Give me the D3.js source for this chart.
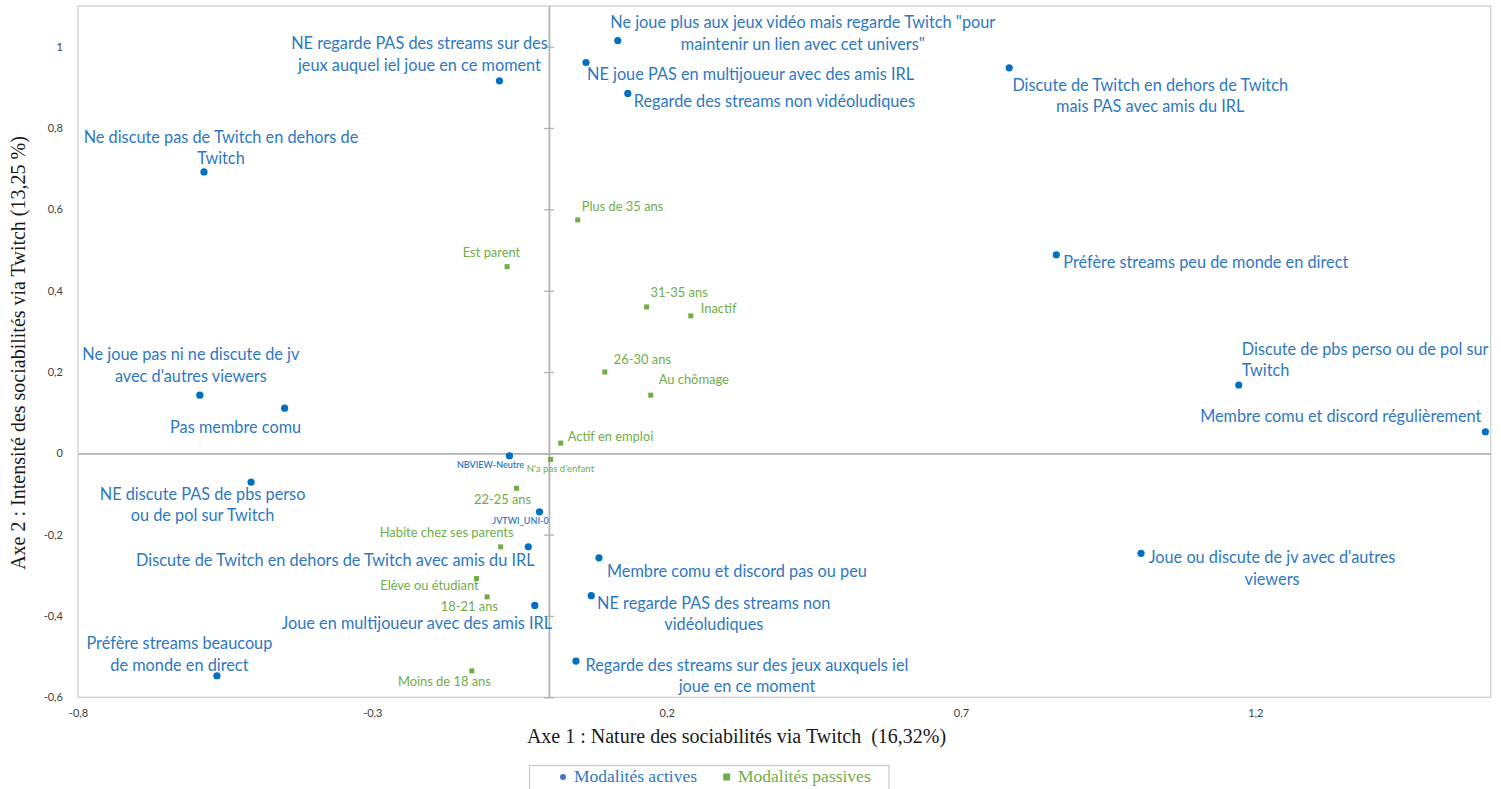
<!DOCTYPE html>
<html><head><meta charset="utf-8">
<script src="https://cdn.jsdelivr.net/npm/d3@7"></script>
<style>body{margin:0;background:#fff;} svg{display:block;} text{white-space:pre;}</style>
</head><body><svg id="c" width="1501" height="789"></svg>
<script>
// ---------- DATA ----------
const activeLabels = [
  "Ne joue plus aux jeux vidéo mais regarde Twitch \"pour\nmaintenir un lien avec cet univers\"",
  "NE regarde PAS des streams sur des\njeux auquel iel joue en ce moment",
  "NE joue PAS en multijoueur avec des amis IRL",
  "Regarde des streams non vidéoludiques",
  "Discute de Twitch en dehors de Twitch\nmais PAS avec amis du IRL",
  "Ne discute pas de Twitch en dehors de\nTwitch",
  "Préfère streams peu de monde en direct",
  "Discute de pbs perso ou de pol sur\nTwitch",
  "Membre comu et discord régulièrement",
  "Ne joue pas ni ne discute de jv\navec d'autres viewers",
  "Pas membre comu",
  "NBVIEW-Neutre",
  "NE discute PAS de pbs perso\nou de pol sur Twitch",
  "JVTWI_UNI-0",
  "Discute de Twitch en dehors de Twitch avec amis du IRL",
  "Membre comu et discord pas ou peu",
  "NE regarde PAS des streams non\nvidéoludiques",
  "Joue en multijoueur avec des amis IRL",
  "Regarde des streams sur des jeux auxquels iel\njoue en ce moment",
  "Préfère streams beaucoup\nde monde en direct",
  "Joue ou discute de jv avec d'autres\nviewers"
];
const activeX = [0.117, -0.084, 0.063, 0.134, 0.782, -0.586, 0.862, 1.172, 1.591, -0.593, -0.449, -0.067, -0.506, -0.016, -0.035, 0.085, 0.072, -0.024, 0.046, -0.564, 1.006];
const activeY = [1.015, 0.916, 0.961, 0.885, 0.948, 0.692, 0.488, 0.168, 0.053, 0.143, 0.111, -0.006, -0.071, -0.144, -0.230, -0.257, -0.350, -0.374, -0.511, -0.547, -0.246];

const passiveLabels = [
  "Plus de 35 ans", "Est parent", "31-35 ans", "Inactif", "26-30 ans", "Au chômage",
  "Actif en emploi", "N'a pas d'enfant", "22-25 ans", "Habite chez ses parents",
  "Elève ou étudiant", "18-21 ans", "Moins de 18 ans"
];
const passiveX = [0.049, -0.071, 0.166, 0.241, 0.095, 0.173, 0.020, 0.003, -0.055, -0.082, -0.123, -0.105, -0.131];
const passiveY = [0.574, 0.459, 0.360, 0.338, 0.200, 0.143, 0.025, -0.015, -0.086, -0.230, -0.308, -0.353, -0.535];

const xTicks = [-0.8, -0.3, 0.2, 0.7, 1.2];
const yTicks = [-0.6, -0.4, -0.2, 0, 0.2, 0.4, 0.6, 0.8, 1];
const xTitle = "Axe 1 : Nature des sociabilités via Twitch  (16,32%)";
const yTitle = "Axe 2 : Intensité des sociabilités via Twitch (13,25 %)";
const legendLabels = ["Modalités actives", "Modalités passives"];

// ---------- LAYOUT (label placement relative to point: anchor, dx, dy, size class) ----------
const activeLabelPos = [
  ["middle", 185, -12.4, "L"], ["middle", -80, -31.7, "L"], ["start", 1, 17.7, "L"],
  ["start", 6, 13.7, "L"], ["middle", 141, 23, "L"], ["middle", 17, -29, "L"],
  ["start", 7, 13.3, "L"], ["start", 3, -30, "L"], ["end", -4, -10, "L"],
  ["middle", -9, -35, "L"], ["middle", -49, 24.4, "L"], ["middle", -19, 12, "S"],
  ["middle", -48.5, 17.7, "L"], ["middle", -19, 12.3, "S"], ["middle", -193, 18.7, "L"],
  ["start", 8, 19.6, "L"], ["middle", 122.5, 13.3, "L"], ["middle", -118, 24, "L"],
  ["middle", 171, 9.4, "L"], ["middle", -37.5, -26.7, "L"], ["middle", 131, 10, "L"]
];
const passiveLabelPos = [
  ["start", 4, -9, "M"], ["middle", -15.6, -10, "M"], ["start", 4, -10, "M"],
  ["start", 10, -2.5, "M"], ["start", 9, -8, "M"], ["start", 8, -11, "M"],
  ["start", 7, -2.6, "M"], ["start", -24, 12.4, "T"], ["middle", -14, 15.7, "M"],
  ["middle", -54, -9.7, "M"], ["middle", -47, 11.3, "M"], ["middle", -17.7, 14, "M"],
  ["middle", -27.4, 15, "M"]
];

const plot = {left: 78, right: 1490.7, top: 6, bottom: 697.3};
const BLUE_PT = "#0070C0", BLUE_TX = "#2E78C2", GREEN = "#70AD47";
const sansFont = "Lato, 'Open Sans', sans-serif";
const serifFont = "'Liberation Serif', 'DejaVu Serif', serif";
const sizes = {L: 16.3, M: 12.9, S: 9, T: 9.6};
const weights = {L: 400, M: 400, S: 600, T: 400};
const lineH = {L: 21.5, M: 14, S: 11, T: 11};

const svg = d3.select("#c");
const x = d3.scaleLinear().domain([-0.8, 1.6]).range([plot.left, plot.right]);
const y = d3.scaleLinear().domain([-0.6, 1.1]).range([plot.bottom, plot.top]);
const fmt = d => String(d).replace(".", ",");

// plot border
svg.append("rect")
  .attr("x", plot.left).attr("y", plot.top)
  .attr("width", plot.right - plot.left).attr("height", plot.bottom - plot.top)
  .attr("fill", "none").attr("stroke", "#cfcfcf").attr("stroke-width", 1.3);

// horizontal axis line through 0
const gx0 = svg.append("g").attr("transform", `translate(0,${y(0)})`)
  .call(d3.axisBottom(x).tickValues([]).tickSizeOuter(0));
gx0.select(".domain").attr("stroke", "#b3b3b3").attr("stroke-width", 1.8);

// vertical axis line through 0 with crossing ticks
const gy0 = svg.append("g").attr("transform", `translate(${x(0)},0)`)
  .call(d3.axisLeft(y).tickValues(yTicks).tickSize(5).tickSizeOuter(0).tickFormat(""));
gy0.select(".domain").attr("stroke", "#b3b3b3").attr("stroke-width", 1.8);
gy0.selectAll(".tick line").attr("x1", 5).attr("stroke", "#b3b3b3").attr("stroke-width", 1.3);

// tick labels
const gyl = svg.append("g").attr("transform", `translate(${plot.left},0)`)
  .call(d3.axisLeft(y).tickValues(yTicks).tickSize(0).tickPadding(15).tickFormat(fmt));
gyl.select(".domain").remove();
gyl.selectAll("text").attr("font-family", sansFont).attr("font-size", 11).attr("fill", "#404040");

const gxl = svg.append("g").attr("transform", `translate(0,${plot.bottom})`)
  .call(d3.axisBottom(x).tickValues(xTicks).tickSize(0).tickPadding(12).tickFormat(fmt));
gxl.select(".domain").remove();
gxl.selectAll("text").attr("font-family", sansFont).attr("font-size", 11).attr("fill", "#404040");

// axis titles
svg.append("text").attr("x", 736.5).attr("y", 742.5).attr("text-anchor", "middle")
  .attr("font-family", serifFont).attr("font-size", 20).attr("fill", "#1a1a1a").text(xTitle);
svg.append("text").attr("transform", `translate(25,353) rotate(-90)`)
  .attr("text-anchor", "middle").attr("font-family", serifFont).attr("font-size", 20)
  .attr("fill", "#1a1a1a").text(yTitle);

// data
const active = activeLabels.map((l, i) => ({label: l, x: activeX[i], y: activeY[i], pos: activeLabelPos[i]}));
const passive = passiveLabels.map((l, i) => ({label: l, x: passiveX[i], y: passiveY[i], pos: passiveLabelPos[i]}));

function drawLabels(data, color) {
  const t = svg.append("g").selectAll("text").data(data).join("text")
    .attr("text-anchor", d => d.pos[0])
    .attr("font-family", sansFont)
    .attr("font-size", d => sizes[d.pos[3]])
    .attr("font-weight", d => weights[d.pos[3]])
    .attr("fill", color);
  t.each(function(d) {
    const lines = d.label.split("\n");
    const px = x(d.x) + d.pos[1], py = y(d.y) + d.pos[2];
    d3.select(this).selectAll("tspan").data(lines).join("tspan")
      .attr("x", px).attr("y", (l, j) => py + j * lineH[d.pos[3]]).text(l => l);
  });
}
drawLabels(passive, GREEN);
drawLabels(active, BLUE_TX);

svg.append("g").selectAll("rect").data(passive).join("rect")
  .attr("x", d => x(d.x) - 2.5).attr("y", d => y(d.y) - 2.5)
  .attr("width", 5).attr("height", 5).attr("fill", GREEN);
svg.append("g").selectAll("circle").data(active).join("circle")
  .attr("cx", d => x(d.x)).attr("cy", d => y(d.y)).attr("r", 3.6).attr("fill", BLUE_PT);

// legend
const lg = svg.append("g");
lg.append("rect").attr("x", 529.5).attr("y", 765.5).attr("width", 359.5).attr("height", 40)
  .attr("fill", "#fff").attr("stroke", "#c8c8c8").attr("stroke-width", 1.2);
lg.append("circle").attr("cx", 563).attr("cy", 777).attr("r", 3).attr("fill", "#4472C4");
lg.append("text").attr("x", 574).attr("y", 782).attr("font-family", serifFont).attr("font-size", 17.5)
  .attr("fill", BLUE_TX).text(legendLabels[0]);
lg.append("rect").attr("x", 723.2).attr("y", 773.5).attr("width", 7).attr("height", 7).attr("fill", GREEN);
lg.append("text").attr("x", 738).attr("y", 782).attr("font-family", serifFont).attr("font-size", 17.5)
  .attr("fill", GREEN).text(legendLabels[1]);
</script></body></html>
